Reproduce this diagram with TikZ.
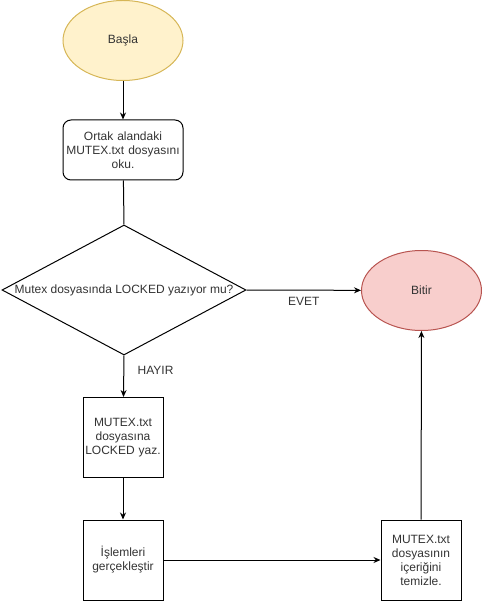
\documentclass[tikz,border=0pt]{standalone}
\usepackage{fontspec}
\setmainfont{Liberation Sans}
\usetikzlibrary{shapes.geometric,arrows.meta}
\definecolor{baslafill}{HTML}{FFF2CC}
\definecolor{basladraw}{HTML}{D6B656}
\definecolor{bitirfill}{HTML}{F8CECC}
\definecolor{bitirdraw}{HTML}{B85450}
\definecolor{yazi}{HTML}{333333}

\begin{document}
\begin{tikzpicture}[x=1pt,y=-1pt,line width=1pt,
    font=\fontsize{12}{14}\selectfont,
    yol/.style={draw,-{Stealth[length=7pt,width=6pt]}},
    kutu/.style={draw,rectangle,inner sep=0pt,align=center,text=yazi},
    uc/.style={ellipse,minimum width=120,minimum height=80,inner sep=0pt,text=yazi}]
            \useasboundingbox (0,0) rectangle (481,601);

            \node (basla) at (123,40.5) [uc,fill=baslafill,draw=basladraw] {Başla};
            \node (oku) at (123,150) [kutu,rounded corners=8pt,minimum width=120,minimum height=60,text width=118] {Ortak alandaki\\MUTEX.txt dosyasını\\oku.};
            \node (karar) at (124,290) [draw,diamond,minimum width=244,minimum height=130,inner sep=0pt,
                label={[text=yazi]center:Mutex dosyasında LOCKED yazıyor mu?}] {};
            \node (bitir) at (421.5,290.5) [uc,fill=bitirfill,draw=bitirdraw] {Bitir};
            \node (yaz) at (123,437.5) [kutu,minimum width=80,minimum height=80,text width=78] {MUTEX.txt\\dosyasına\\LOCKED yaz.};
            \node (islem) at (123,560) [kutu,minimum width=80,minimum height=80,text width=78] {İşlemleri\\gerçekleştir};
            \node (temiz) at (421,560) [kutu,minimum width=80,minimum height=80,text width=78] {MUTEX.txt\\dosyasının\\içeriğini\\temizle.};

            \draw[yol] (basla) -- (oku);
            \draw (oku) -- (karar.north);
            \draw[yol] (karar.east) -- node[below=3pt,text=yazi] {EVET} (bitir);
            \draw[yol] (karar.south) -- node[right=10pt,pos=0.35,text=yazi] {HAYIR} (yaz);
            \draw[yol] (yaz) -- (islem);
            \draw[yol] (islem) -- (temiz);
            \draw[yol] (temiz) -- (bitir);

        \end{tikzpicture}
\end{document}
